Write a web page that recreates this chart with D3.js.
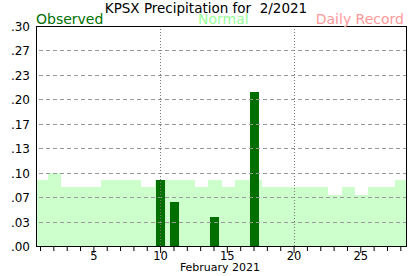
<!DOCTYPE html>
<html>
<head>
<meta charset="utf-8">
<script src="https://cdn.jsdelivr.net/npm/d3@7"></script>
<style>
  body { margin: 0; background: white; }
  text { font-family: "DejaVu Sans", Verdana, sans-serif; }
</style>
</head>
<body>
<div id="chart"></div>
<script>
const days = d3.range(1, 29),
  observed = [0, 0, 0, 0, 0, 0, 0, 0, 0, 0.09, 0.06, 0, 0, 0.04, 0, 0, 0.21, 0, 0, 0, 0, 0, 0, 0, 0, 0, 0, 0],
  normal = [0.09, 0.10, 0.08, 0.08, 0.08, 0.09, 0.09, 0.09, 0.08, 0.09, 0.09, 0.09, 0.08, 0.09, 0.08, 0.09, 0.09, 0.08, 0.08, 0.08, 0.08, 0.08, 0.07, 0.08, 0.07, 0.08, 0.08, 0.09],
  yTicks = [0, 0.3 / 9, 0.6 / 9, 0.1, 1.2 / 9, 1.5 / 9, 0.2, 2.1 / 9, 2.4 / 9, 0.3],
  xLabels = [5, 10, 15, 20, 25],
  vLines = [10, 20];

const W = 417, H = 276,
  plot = {left: 36, right: 407, top: 26, bottom: 246};

const svg = d3.select('#chart')
  .append('svg')
  .attr('width', W)
  .attr('height', H);

// scales
const x = d3.scaleLinear().domain([0.7, 28.5]).range([plot.left, plot.right]);
const y = d3.scaleLinear().domain([0, 0.3]).range([plot.bottom, plot.top]);

// normal as steps, one per day
svg.append('g')
  .selectAll('rect')
  .data(days)
  .enter()
  .append('rect')
    .attr('x', d => Math.max(plot.left, x(d - 0.4)))
    .attr('width', d => Math.min(plot.right, x(d + 0.6)) - Math.max(plot.left, x(d - 0.4)))
    .attr('y', (d, i) => y(normal[i]))
    .attr('height', (d, i) => plot.bottom - y(normal[i]))
    .attr('fill', '#ccffcc')
    .attr('shape-rendering', 'crispEdges');

// observed bars
svg.append('g')
  .selectAll('rect')
  .data(days.filter((d, i) => observed[i] > 0))
  .enter()
  .append('rect')
    .attr('x', d => x(d) - 3.7)
    .attr('width', 9)
    .attr('y', d => y(observed[d - 1]))
    .attr('height', d => plot.bottom - y(observed[d - 1]))
    .attr('fill', '#006f00')
    .attr('shape-rendering', 'crispEdges');

// horizontal grid
svg.append('g')
  .selectAll('line')
  .data(yTicks.slice(1, -1))
  .enter()
  .append('line')
    .attr('x1', plot.left + 3).attr('x2', plot.right)
    .attr('y1', d => Math.round(y(d)) + 0.5).attr('y2', d => Math.round(y(d)) + 0.5)
    .attr('stroke', '#999')
    .attr('stroke-dasharray', '4,3');

// vertical dotted lines
svg.append('g')
  .selectAll('line')
  .data(vLines)
  .enter()
  .append('line')
    .attr('x1', d => Math.round(x(d)) + 0.5).attr('x2', d => Math.round(x(d)) + 0.5)
    .attr('y1', plot.top).attr('y2', plot.bottom)
    .attr('stroke', '#777')
    .attr('stroke-dasharray', '1,2');

// frame
svg.append('rect')
  .attr('x', plot.left + 0.5).attr('y', plot.top + 0.5)
  .attr('width', plot.right - plot.left - 1).attr('height', plot.bottom - plot.top)
  .attr('fill', 'none')
  .attr('stroke', 'black');

// bottom axis
const xAxis = d3.axisBottom(x)
  .tickValues(days)
  .tickSize(4)
  .tickFormat(d => xLabels.includes(d) ? d : '');
const gx = svg.append('g')
  .attr('transform', `translate(0,${plot.bottom + 1})`)
  .call(xAxis);
gx.select('.domain').remove();
gx.selectAll('.tick line')
  .attr('y2', d => d % 5 === 0 ? 6 : 4);
gx.selectAll('.tick text')
  .attr('y', 5)
  .attr('font-size', 11.5)
  .attr('font-family', '"DejaVu Sans", Verdana, sans-serif')
  .attr('fill', 'black');

// y labels
svg.append('g')
  .selectAll('text')
  .data(yTicks)
  .enter()
  .append('text')
    .attr('x', 30)
    .attr('y', d => y(d) + 5)
    .attr('text-anchor', 'end')
    .attr('font-size', 12)
    .text(d => '.' + d3.format('02d')(Math.round(d * 100)));

// title and legend
svg.append('text')
  .attr('x', 206).attr('y', 13)
  .attr('text-anchor', 'middle')
  .attr('font-size', 13.5)
  .attr('xml:space', 'preserve')
  .style('white-space', 'pre')
  .text('KPSX Precipitation for  2/2021');

svg.append('text')
  .attr('x', plot.left).attr('y', 24)
  .attr('font-size', 14)
  .attr('fill', '#007000')
  .text('Observed');

svg.append('text')
  .attr('x', 198).attr('y', 24)
  .attr('font-size', 14)
  .attr('fill', '#99ff99')
  .text('Normal');

svg.append('text')
  .attr('x', 404).attr('y', 24)
  .attr('text-anchor', 'end')
  .attr('font-size', 14)
  .attr('fill', '#ff9999')
  .text('Daily Record');

svg.append('text')
  .attr('x', 220).attr('y', 271)
  .attr('text-anchor', 'middle')
  .attr('font-size', 11)
  .text('February 2021');
</script>
</body>
</html>
